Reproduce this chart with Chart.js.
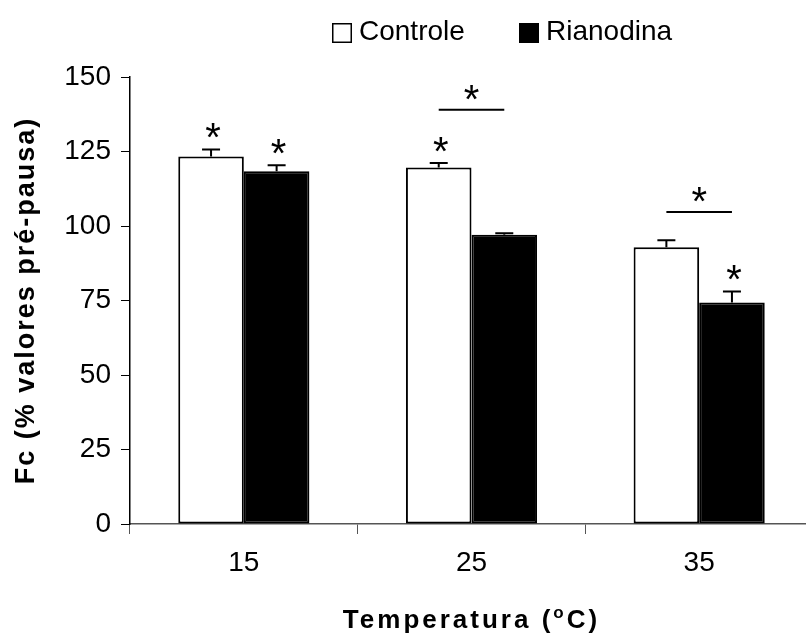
<!DOCTYPE html>
<html>
<head>
<meta charset="utf-8">
<script src="https://cdn.jsdelivr.net/npm/chart.js@4"></script>
<style>
  html, body { margin: 0; padding: 0; background: #fff; overflow: hidden; }
  #wrap { width: 806px; height: 636px; overflow: hidden; position: relative; }
  #box { width: 830px; height: 636px; position: absolute; left: 0; top: 0; }
</style>
</head>
<body>
<div id="wrap"><div id="box"><canvas id="c"></canvas></div></div>
<script>
// Temperature groups (°C)
const categories = ['15', '25', '35'];
// Mean force (% of pre-pause values) and upper error (SEM)
const controle = [123.3, 119.6, 92.9];
const controleErr = [2.4, 1.5, 2.3];
const rianodina = [118.4, 97.1, 74.3];
const rianodinaErr = [2.0, 0.5, 3.7];
// Significance markers
const controleStar = [true, true, false];
const rianodinaStar = [true, false, true];
const pairLine = [null, 139, 104.7];   // bracket level between the two bars
const yTicks = [0, 25, 50, 75, 100, 125, 150];
const yTitle = 'Fc (% valores pré-pausa)';

const FONT = "'Liberation Sans', Arial, sans-serif";

const annotations = {
  id: 'annotations',
  afterDatasetsDraw(chart) {
    const ctx = chart.ctx;
    const y = chart.scales.y;
    const metaC = chart.getDatasetMeta(0);
    const metaR = chart.getDatasetMeta(1);
    ctx.save();
    ctx.strokeStyle = '#000';
    ctx.fillStyle = '#000';
    ctx.lineWidth = 2;

    const star = (cx, cy) => {
      ctx.font = '40px ' + FONT;
      ctx.textAlign = 'center';
      ctx.textBaseline = 'alphabetic';
      const m = ctx.measureText('*');
      ctx.fillText('*', cx, cy + (m.actualBoundingBoxAscent - m.actualBoundingBoxDescent) / 2);
    };

    const errBar = (meta, vals, errs, stars) => {
      meta.data.forEach((bar, j) => {
        const top = y.getPixelForValue(vals[j] + errs[j]);
        const base = y.getPixelForValue(vals[j]);
        ctx.beginPath();
        ctx.moveTo(bar.x, base);
        ctx.lineTo(bar.x, top);
        ctx.moveTo(bar.x - 9, top);
        ctx.lineTo(bar.x + 9, top);
        ctx.stroke();
        if (stars[j]) star(bar.x + 2, top - 19);
      });
    };
    errBar(metaC, controle, controleErr, controleStar);
    errBar(metaR, rianodina, rianodinaErr, rianodinaStar);

    pairLine.forEach((v, j) => {
      if (v == null) return;
      const ly = y.getPixelForValue(v);
      const x1 = metaC.data[j].x, x2 = metaR.data[j].x;
      ctx.beginPath();
      ctx.moveTo(x1, ly);
      ctx.lineTo(x2, ly);
      ctx.stroke();
      star((x1 + x2) / 2, ly - 17);
    });
    ctx.restore();
  },
  afterDraw(chart) {
    const ctx = chart.ctx;
    const area = chart.chartArea;
    ctx.save();
    // legend
    ctx.font = '28px ' + FONT;
    ctx.textBaseline = 'middle';
    ctx.textAlign = 'left';
    const items = chart.data.datasets;
    const pos = [332, 519];
    items.forEach((ds, i) => {
      const bx = pos[i];
      ctx.fillStyle = ds.backgroundColor;
      ctx.fillRect(bx, 23, 20, 20);
      ctx.strokeStyle = '#000';
      ctx.lineWidth = 1.5;
      ctx.strokeRect(bx + 0.75, 23.75, 18.5, 18.5);
      ctx.fillStyle = '#000';
      ctx.fillText(ds.label, bx + 27, 32);
    });

    // y-axis title (rotated, spaced bold)
    ctx.save();
    ctx.translate(27, (area.top + area.bottom) / 2);
    ctx.rotate(-Math.PI / 2);
    ctx.font = 'bold 27px ' + FONT;
    ctx.letterSpacing = '2px';
    ctx.textAlign = 'center';
    ctx.textBaseline = 'middle';
    ctx.fillText(yTitle, 0, 0);
    ctx.restore();

    // x-axis title with superscript o
    const main1 = 'Temperatura (', sup = 'o', main2 = 'C)';
    const bigF = 'bold 26px ' + FONT, smallF = 'bold 17px ' + FONT;
    ctx.letterSpacing = '3px';
    ctx.textAlign = 'left';
    ctx.textBaseline = 'alphabetic';
    ctx.font = bigF;
    const w1 = ctx.measureText(main1).width, w3 = ctx.measureText(main2).width;
    ctx.font = smallF;
    const w2 = ctx.measureText(sup).width;
    const total = w1 + w2 + w3;
    let x = (area.left + area.right) / 2 - total / 2;
    const base = 628;
    ctx.font = bigF;
    ctx.fillText(main1, x, base);
    x += w1;
    ctx.font = smallF;
    ctx.fillText(sup, x, base - 10);
    x += w2;
    ctx.font = bigF;
    ctx.fillText(main2, x, base);
    ctx.restore();
  }
};

new Chart(document.getElementById('c'), {
  type: 'bar',
  data: {
    labels: categories,
    datasets: [
      {
        label: 'Controle',
        data: controle,
        backgroundColor: '#ffffff',
        borderColor: '#000000',
        borderWidth: 2,
        borderSkipped: false,
        categoryPercentage: 0.576,
        barPercentage: 1.0
      },
      {
        label: 'Rianodina',
        data: rianodina,
        backgroundColor: '#000000',
        borderColor: '#000000',
        borderWidth: 2,
        borderSkipped: false,
        categoryPercentage: 0.576,
        barPercentage: 1.0
      }
    ]
  },
  options: {
    responsive: true,
    maintainAspectRatio: false,
    animation: false,
    devicePixelRatio: 1,
    layout: { padding: { top: 77, left: 0, right: 17, bottom: 0 } },
    plugins: { legend: { display: false }, tooltip: { enabled: false } },
    scales: {
      x: {
        offset: true,
        grid: { display: true, drawOnChartArea: false, drawTicks: true, tickLength: 10, color: '#555', offset: true },
        border: { color: '#555', width: 1.5 },
        ticks: { color: '#000', font: { family: FONT, size: 28 }, padding: 12 },
        afterFit: s => { s.height = 112; }
      },
      y: {
        min: 0,
        max: 150,
        afterBuildTicks: s => { s.ticks = yTicks.map(v => ({ value: v })); },
        grid: { drawOnChartArea: false, drawTicks: true, tickLength: 9, color: '#000' },
        border: { color: '#000', width: 1.5 },
        ticks: { color: '#000', font: { family: FONT, size: 28 }, padding: 10 },
        title: { display: false },
        afterFit: s => { s.width = 130; }
      }
    }
  },
  plugins: [annotations]
});
</script>
</body>
</html>
